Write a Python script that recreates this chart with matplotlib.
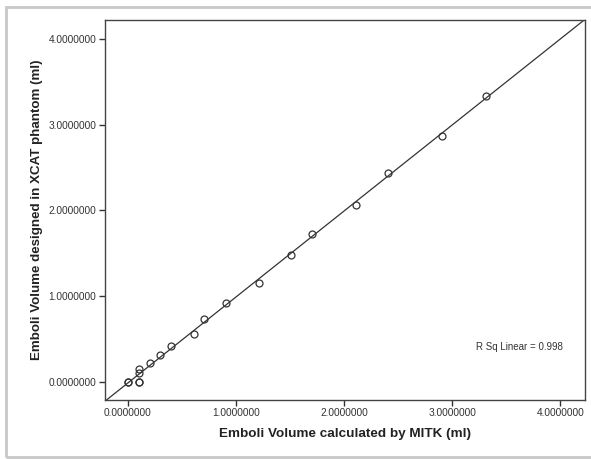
import numpy as np
import matplotlib
matplotlib.use("Agg")
import matplotlib.pyplot as plt
from matplotlib.patches import Rectangle

plt.rcParams['font.family'] = ['Liberation Sans', 'DejaVu Sans']

# values (ml)
mitk_vol = [0.0, 0.0, 0.1, 0.1, 0.1, 0.1, 0.2, 0.3, 0.4, 0.61, 0.70,
            0.905, 1.21, 1.51, 1.70, 2.11, 2.41, 2.91, 3.31]
xcat_vol = [0.0, 0.0, 0.0, 0.0, 0.10, 0.15, 0.22, 0.31, 0.42, 0.56, 0.73,
            0.92, 1.15, 1.48, 1.72, 2.06, 2.44, 2.87, 3.34]
tick_vals = [0.0, 1.0, 2.0, 3.0, 4.0]
r_sq_text = "R Sq Linear = 0.998"

lo, hi = -0.216, 4.23

fig = plt.figure(figsize=(5.91, 4.59), dpi=100)
fig.patches.append(Rectangle((6 / 591, 2 / 459), 620 / 591, 450 / 459,
                             transform=fig.transFigure, fill=False,
                             edgecolor="#c8c8c8", linewidth=2.0))
ax = fig.add_axes([0.177, 0.1285, 0.813, 0.8275])

x = np.array(mitk_vol)
y = np.array(xcat_vol)
slope, intercept = np.polyfit(x, y, 1)
xs = np.array([lo, hi])
ax.plot(xs, slope * xs + intercept, color="#333333", lw=0.9, zorder=2)
ax.plot(x, y, linestyle="none", marker="o", markersize=5,
        markerfacecolor="none", markeredgecolor="#333333",
        markeredgewidth=0.9, zorder=3)

ax.set_xlim(lo, hi)
ax.set_ylim(-0.214, 4.22)
ax.set_xticks(tick_vals)
ax.set_yticks(tick_vals)
ax.set_xticklabels([f"{v:.7f}" for v in tick_vals])
ax.set_yticklabels([f"{v:.7f}" for v in tick_vals])
ax.tick_params(direction="out", length=4, width=1, color="#333333",
               labelsize=7.3, labelcolor="#333333", pad=2)
for s in ax.spines.values():
    s.set_color("#444444")
    s.set_linewidth(1.0)

ax.set_xlabel("Emboli Volume calculated by MITK (ml)", fontsize=9.7,
              fontweight="bold", color="#222222", labelpad=7)
ax.set_ylabel("Emboli Volume designed in XCAT phantom (ml)", fontsize=9.6,
              fontweight="bold", color="#222222", labelpad=4)

ax.text(3.62, 0.405, r_sq_text, fontsize=7, color="#333333",
        ha="center", va="center")

fig.savefig("out.png", dpi=100)
